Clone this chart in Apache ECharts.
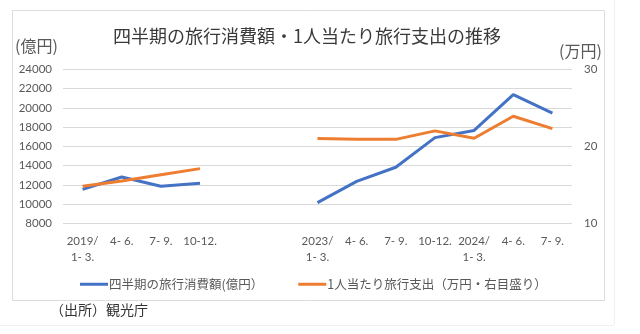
<!DOCTYPE html>
<html>
<head>
<meta charset="utf-8">
<script src="https://cdn.jsdelivr.net/npm/echarts@6/dist/echarts.min.js"></script>
<style>
  html, body { margin: 0; padding: 0; background: #ffffff; }
  #chart { width: 640px; height: 334px; }
</style>
</head>
<body>
<div id="chart"></div>
<script>
// Quarterly categories; two blank slots separate 2019 from 2023
const categories = [
  '2019/\n1- 3.', '4- 6.', '7- 9.', '10-12.', '', '',
  '2023/\n1- 3.', '4- 6.', '7- 9.', '10-12.', '2024/\n1- 3.', '4- 6.', '7- 9.'
];
// Quarterly travel consumption (億円), left axis
const spending = [11518, 12810, 11850, 12150, null, null,
  10146, 12350, 13820, 16900, 17650, 21370, 19450];
// Spending per visitor (万円), right axis
const perPerson = [14.8, 15.5, 16.3, 17.1, null, null,
  21.0, 20.9, 20.9, 22.0, 21.05, 23.9, 22.3];

const leftTicks = { min: 8000, max: 24000, interval: 2000 };
const rightTicks = { min: 10, max: 30, interval: 10 };

const titleText = '四半期の旅行消費額・1人当たり旅行支出の推移';
const seriesNames = ['四半期の旅行消費額(億円）', '1人当たり旅行支出（万円・右目盛り）'];

const FONT = '"Noto Sans CJK JP", "Noto Sans", sans-serif';
const NUM_FONT = 'Lato, "Noto Sans", sans-serif';
const TEXT = '#595959';

const chart = echarts.init(document.getElementById('chart'), null, { renderer: 'canvas' });
chart.setOption({
  backgroundColor: '#ffffff',
  animation: false,
  grid: { left: 63, right: 68, top: 69.3, bottom: 110.7, containLabel: false },
  legend: {
    left: 75, top: 273,
    itemWidth: 28, itemHeight: 3, itemGap: 35,
    icon: 'rect',
    textStyle: { fontFamily: FONT, fontSize: 12.5, color: TEXT, padding: [0, 0, 0, -4] },
    data: seriesNames
  },
  xAxis: {
    type: 'category',
    data: categories,
    boundaryGap: true,
    axisLine: { show: false },
    axisTick: { show: false },
    axisLabel: {
      interval: 0, margin: 10,
      fontFamily: NUM_FONT, fontSize: 11.5, color: TEXT, lineHeight: 16
    }
  },
  yAxis: [
    {
      type: 'value',
      min: leftTicks.min, max: leftTicks.max, interval: leftTicks.interval,
      axisLine: { show: false }, axisTick: { show: false },
      axisLabel: { margin: 11, fontFamily: NUM_FONT, fontSize: 11.5, color: TEXT,
        formatter: v => String(v) },
      splitLine: { lineStyle: { color: '#d9d9d9', width: 1 } }
    },
    {
      type: 'value',
      min: rightTicks.min, max: rightTicks.max, interval: rightTicks.interval,
      axisLine: { show: false }, axisTick: { show: false },
      axisLabel: { margin: 12, fontFamily: NUM_FONT, fontSize: 11.5, color: TEXT,
        formatter: v => String(v) },
      splitLine: { show: false }
    }
  ],
  series: [
    {
      name: seriesNames[0], type: 'line', yAxisIndex: 0,
      data: spending, symbol: 'none', connectNulls: false,
      lineStyle: { color: '#4472C4', width: 3 }, itemStyle: { color: '#4472C4' }
    },
    {
      name: seriesNames[1], type: 'line', yAxisIndex: 1,
      data: perPerson, symbol: 'none', connectNulls: false,
      lineStyle: { color: '#ED7D31', width: 3 }, itemStyle: { color: '#ED7D31' }
    }
  ],
  graphic: [
    // frame around the chart area
    { type: 'rect', shape: { x: 12.5, y: 10.5, width: 592, height: 290 },
      style: { fill: 'none', stroke: '#dcdcdc', lineWidth: 1 }, z: -1 },
    // faint page edges
    { type: 'line', shape: { x1: 614.5, y1: 0, x2: 614.5, y2: 325 },
      style: { stroke: '#f0f0f0', lineWidth: 1 }, z: -1 },
    { type: 'line', shape: { x1: 0, y1: 325.5, x2: 614, y2: 325.5 },
      style: { stroke: '#f0f0f0', lineWidth: 1 }, z: -1 },
    // chart title
    { type: 'text', left: 113, top: 27,
      style: { text: titleText, font: '18px ' + FONT, fill: '#3a3a3a' } },
    { type: 'text', left: 15, top: 38,
      style: { text: '(億円)', font: '16px ' + FONT, fill: TEXT } },
    { type: 'text', left: 559, top: 43,
      style: { text: '(万円)', font: '16px ' + FONT, fill: TEXT } },
    { type: 'text', left: 50, top: 303,
      style: { text: '（出所）観光庁', font: '14px ' + FONT, fill: '#333333' } }
  ]
});
</script>
</body>
</html>
